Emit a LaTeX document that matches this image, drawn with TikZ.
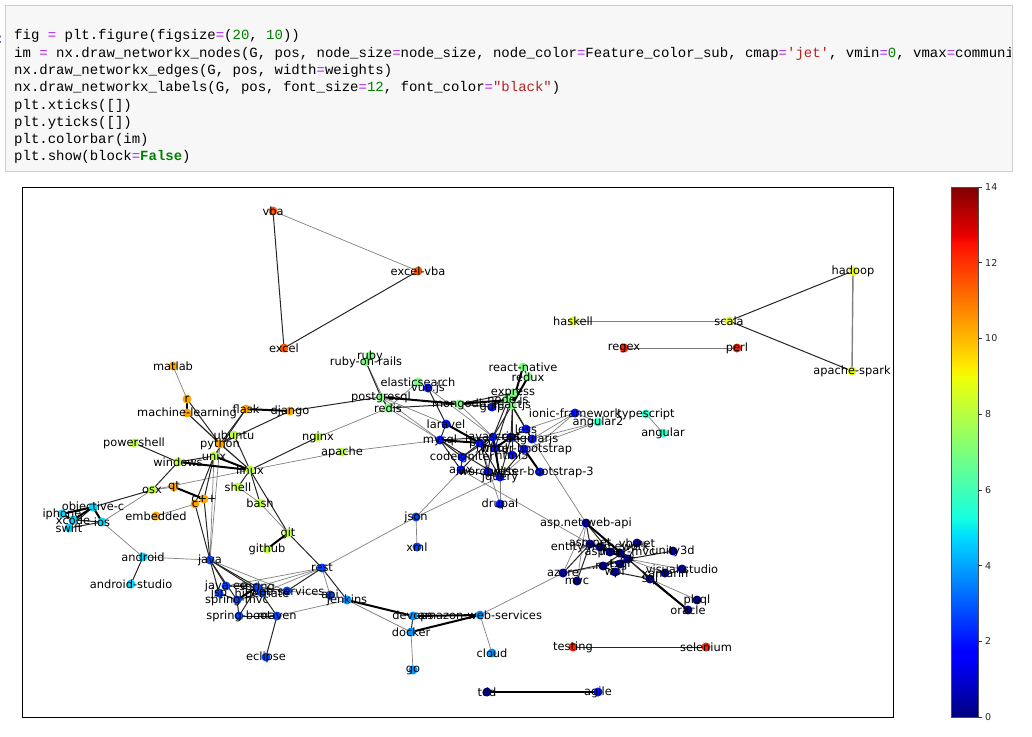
\documentclass[tikz,border=0pt]{standalone}
\usepackage{fontspec}
\setmainfont{DejaVu Sans}
\setmonofont{Liberation Mono}
\pgfdeclarelayer{edges}
\pgfdeclarelayer{dots}
\pgfsetlayers{edges,dots,main}
\definecolor{cnavy}{RGB}{0,0,145}
\definecolor{cblue}{RGB}{0,20,255}
\definecolor{cbluethree}{RGB}{0,70,255}
\definecolor{cazure}{RGB}{0,150,255}
\definecolor{ccyan}{RGB}{0,215,255}
\definecolor{caqua}{RGB}{45,255,205}
\definecolor{cgreen}{RGB}{120,255,125}
\definecolor{clime}{RGB}{190,255,60}
\definecolor{cyellow}{RGB}{235,255,15}
\definecolor{corange}{RGB}{255,165,0}
\definecolor{corred}{RGB}{255,90,0}
\definecolor{cred}{RGB}{255,30,0}
\definecolor{cellbg}{RGB}{247,247,247}
\definecolor{cellbd}{RGB}{207,207,207}
\definecolor{pyop}{RGB}{170,34,255}
\definecolor{pynum}{RGB}{0,128,0}
\definecolor{pystr}{RGB}{186,33,33}
\definecolor{prompt}{RGB}{48,63,159}
% jet colormap break points
\definecolor{ja}{rgb}{0,0,0.5}
\definecolor{jb}{rgb}{0,0,1}
\definecolor{jc}{rgb}{0,0.86,1}
\definecolor{jd}{rgb}{0,0.9,0.968}
\definecolor{je}{rgb}{0.081,1,0.887}
\definecolor{jf}{rgb}{0.935,1,0.032}
\definecolor{jg}{rgb}{0.968,0.963,0}
\definecolor{jh}{rgb}{1,0.926,0}
\definecolor{ji}{rgb}{1,0.074,0}
\definecolor{jj}{rgb}{0.909,0,0}
\definecolor{jk}{rgb}{0.5,0,0}
\tikzset{
  dot/.style={circle,inner sep=0pt,minimum size=9pt,draw=none},
  lbl/.style={inner sep=0pt,text=black,font=\fontsize{11.4}{13}\selectfont},
  eone/.style={draw=black!50,line width=0.7pt},
  etwo/.style={draw=black!85,line width=1pt},
  ethree/.style={draw=black,line width=2pt},
  codeln/.style={anchor=west,inner sep=0pt,font=\ttfamily\fontsize{14}{16}\selectfont},
  ticklbl/.style={anchor=west,inner sep=0pt,font=\fontsize{9.5}{11}\selectfont,text=black!85},
}
\newcommand\tg[5]{%
  \begin{pgfonlayer}{dots}\node[dot,fill=#4] (#1) at (#2,#3) {};\end{pgfonlayer}%
  \node[lbl] (#1-t) at (#2,#3) {#5};}
\newcommand\eq{{\color{pyop}=}}
\begin{document}
\begin{tikzpicture}[x=1pt,y=-1pt]
\useasboundingbox (0,0) rectangle (1032,736);
% ---------------- code cell ----------------
\draw[cellbd,fill=cellbg,line width=0.8pt] (5,5) rectangle (1012,171);
\node[anchor=center,inner sep=0pt,text=prompt,font=\ttfamily\fontsize{14}{16}\selectfont] (prm) at (0,40) {:};
\begin{scope}
\clip (6,6) rectangle (1010,170);
\node[codeln] (l1) at (14,36) {fig \eq{} plt.figure(figsize\eq{}({\color{pynum}20}, {\color{pynum}10}))};
\node[codeln] (l2) at (14,54) {im \eq{} nx.draw\_networkx\_nodes(G, pos, node\_size\eq{}node\_size, node\_color\eq{}Feature\_color\_sub, cmap\eq{}{\color{pystr}'jet'}, vmin\eq{}{\color{pynum}0}, vmax\eq{}communities};
\node[codeln] (l3) at (14,71) {nx.draw\_networkx\_edges(G, pos, width\eq{}weights)};
\node[codeln] (l4) at (14,88) {nx.draw\_networkx\_labels(G, pos, font\_size\eq{}{\color{pynum}12}, font\_color\eq{}{\color{pystr}"black"})};
\node[codeln] (l5) at (14,106) {plt.xticks([])};
\node[codeln] (l6) at (14,123) {plt.yticks([])};
\node[codeln] (l7) at (14,140) {plt.colorbar(im)};
\node[codeln] (l8) at (14,157) {plt.show(block\eq{}{\color{pynum}\bfseries False})};
\end{scope}
% ---------------- axes frame ----------------
\draw[black,line width=0.8pt] (22,187) rectangle (893,717);
% ---------------- colorbar ----------------
\shade[bottom color=ja,top color=jb] (951,717) rectangle (978,658.7);
\shade[bottom color=jb,top color=jb] (951,658.7) rectangle (978,650.75);
\shade[bottom color=jb,top color=jc] (951,650.75) rectangle (978,536.8);
\shade[bottom color=jc,top color=jd] (951,536.8) rectangle (978,531.5);
\shade[bottom color=jd,top color=je] (951,531.5) rectangle (978,518.25);
\shade[bottom color=je,top color=jf] (951,518.25) rectangle (978,377.8);
\shade[bottom color=jf,top color=jg] (951,377.8) rectangle (978,372.5);
\shade[bottom color=jg,top color=jh] (951,372.5) rectangle (978,367.2);
\shade[bottom color=jh,top color=ji] (951,367.2) rectangle (978,245.3);
\shade[bottom color=ji,top color=jj] (951,245.3) rectangle (978,234.7);
\shade[bottom color=jj,top color=jk] (951,234.7) rectangle (978,187);
\draw[black!70,line width=0.6pt] (951,187) rectangle (978,717);
\foreach \v in {0,2,...,14}{
  \pgfmathsetmacro\yy{717-530*\v/14}
  \draw[black!80,line width=0.6pt] (978,\yy) -- (982,\yy);
  \node[ticklbl] (tk\v) at (985,\yy) {\v};
}
% ---------------- graph nodes ----------------
\tg{vba}{273}{211}{corred}{vba}
\tg{excelvba}{418}{271}{corred}{excel-vba}
\tg{excel}{284}{348}{corred}{excel}
\tg{hadoop}{853}{271}{cyellow}{hadoop}
\tg{scala}{729}{321}{cyellow}{scala}
\tg{apachespark}{852}{371}{cyellow}{apache-spark}
\tg{haskell}{573}{321}{cyellow}{haskell}
\tg{regex}{624}{348}{cred}{regex}
\tg{perl}{737}{348}{cred}{perl}
\tg{testing}{573}{647}{cred}{testing}
\tg{selenium}{706}{647}{cred}{selenium}
\tg{tdd}{487}{692}{cnavy}{tdd}
\tg{agile}{598}{692}{cblue}{agile}
% left cluster
\tg{matlab}{173}{366}{corange}{matlab}
\tg{r}{187}{399}{corange}{r}
\tg{ml}{187}{413}{corange}{machine-learning}
\tg{flask}{246}{409}{corange}{flask}
\tg{django}{290}{411}{corange}{django}
\tg{ubuntu}{234}{435}{clime}{ubuntu}
\tg{python}{220}{444}{corange}{python}
\tg{unix}{214}{456}{clime}{unix}
\tg{powershell}{134}{443}{clime}{powershell}
\tg{windows}{178}{462}{clime}{windows}
\tg{linux}{250}{470}{clime}{linux}
\tg{osx}{152}{490}{clime}{osx}
\tg{qt}{174}{487}{corange}{qt}
\tg{cpp}{204}{499}{corange}{c++}
\tg{c}{195}{504}{corange}{c}
\tg{shell}{238}{487}{clime}{shell}
\tg{bash}{260}{503}{clime}{bash}
\tg{embedded}{156}{516}{corange}{embedded}
\tg{objc}{93}{507}{ccyan}{objective-c}
\tg{iphone}{62}{514}{ccyan}{iphone}
\tg{xcode}{73}{520}{ccyan}{xcode}
\tg{ios}{102}{522}{ccyan}{ios}
\tg{swift}{69}{528}{ccyan}{swift}
\tg{android}{143}{557}{ccyan}{android}
\tg{androidstudio}{131}{584}{ccyan}{android-studio}
\tg{git}{288}{533}{clime}{git}
\tg{github}{267}{549}{clime}{github}
\tg{nginx}{318}{437}{clime}{nginx}
\tg{apache}{342}{452}{clime}{apache}
% java / devops
\tg{java}{210}{560}{cbluethree}{java}
\tg{javaee}{226}{586}{cbluethree}{java-ee}
\tg{spring}{257}{587}{cbluethree}{spring}
\tg{jsp}{219}{593}{cbluethree}{jsp}
\tg{hibernate}{262}{593}{cbluethree}{hibernate}
\tg{springmvc}{237}{600}{cbluethree}{spring-mvc}
\tg{webservices}{287}{591}{cbluethree}{web-services}
\tg{springboot}{239}{616}{cbluethree}{spring-boot}
\tg{maven}{277}{616}{cbluethree}{maven}
\tg{eclipse}{266}{657}{cbluethree}{eclipse}
\tg{rest}{322}{568}{cbluethree}{rest}
\tg{api}{330}{595}{cbluethree}{api}
\tg{jenkins}{347}{600}{cazure}{jenkins}
\tg{devops}{413}{616}{cazure}{devops}
\tg{aws}{480}{615}{cazure}{amazon-web-services}
\tg{docker}{411}{632}{cazure}{docker}
\tg{go}{413}{670}{cazure}{go}
\tg{cloud}{492}{653}{cazure}{cloud}
\tg{json}{416}{517}{cbluethree}{json}
\tg{xml}{417}{547}{cbluethree}{xml}
\tg{drupal}{500}{504}{cblue}{drupal}
% web cluster
\tg{ruby}{370}{356}{cgreen}{ruby}
\tg{ror}{366}{362}{cgreen}{ruby-on-rails}
\tg{elasticsearch}{418}{382}{cgreen}{elasticsearch}
\tg{vuejs}{428}{388}{cblue}{vue.js}
\tg{postgresql}{381}{397}{cgreen}{postgresql}
\tg{redis}{388}{408}{cgreen}{redis}
\tg{mongodb}{459}{404}{cgreen}{mongodb}
\tg{gulp}{492}{407}{cblue}{gulp}
\tg{reactnative}{523}{367}{cgreen}{react-native}
\tg{redux}{528}{377}{cgreen}{redux}
\tg{express}{513}{393}{cgreen}{express}
\tg{nodejs}{508}{400}{cgreen}{node.js}
\tg{reactjs}{512}{405}{cgreen}{reactjs}
\tg{laravel}{446}{424}{cblue}{laravel}
\tg{mysql}{440}{440}{cblue}{mysql}
\tg{codeigniter}{462}{457}{cblue}{codeigniter}
\tg{javascript}{493}{437}{cblue}{javascript}
\tg{php}{480}{443}{cblue}{php}
\tg{css}{511}{437}{cblue}{css}
\tg{html}{495}{448}{cblue}{html}
\tg{htmlfive}{512}{455}{cblue}{html5}
\tg{angularjs}{532}{439}{cblue}{angularjs}
\tg{less}{526}{429}{cblue}{less}
\tg{twbs}{524}{449}{cblue}{twitter-bootstrap}
\tg{ajax}{461}{470}{cblue}{ajax}
\tg{wordpress}{488}{472}{cblue}{wordpress}
\tg{jquery}{500}{477}{cblue}{jquery}
\tg{twbsthree}{540}{472}{cblue}{twitter-bootstrap-3}
\tg{ionic}{575}{413}{cblue}{ionic-framework}
\tg{angulartwo}{598}{422}{caqua}{angular2}
\tg{typescript}{646}{414}{caqua}{typescript}
\tg{angular}{663}{433}{caqua}{angular}
% .net cluster
\tg{aspwebapi}{586}{523}{cnavy}{asp.net-web-api}
\tg{aspnet}{590}{544}{cnavy}{asp.net}
\tg{ef}{600}{547}{cnavy}{entity-framework}
\tg{vbnet}{637}{543}{cnavy}{vb.net}
\tg{unity}{673}{551}{cnavy}{unity3d}
\tg{csharp}{628}{559}{cnavy}{c\#}
\tg{linq}{610}{552}{cnavy}{linq}
\tg{aspmvc}{620}{553}{cnavy}{asp.net-mvc}
\tg{dotnet}{603}{566}{cnavy}{.net}
\tg{tsql}{620}{564}{cnavy}{tsql}
\tg{wpf}{615}{572}{cnavy}{wpf}
\tg{azure}{563}{573}{cnavy}{azure}
\tg{mvc}{577}{581}{cnavy}{mvc}
\tg{visualstudio}{682}{569}{cnavy}{visual-studio}
\tg{xamarin}{665}{573}{cnavy}{xamarin}
\tg{sql}{650}{579}{cnavy}{sql}
\tg{plsql}{697}{600}{cnavy}{plsql}
\tg{oracle}{688}{610}{cnavy}{oracle}
% ---------------- edges ----------------
\begin{pgfonlayer}{edges}
\foreach \a/\b in {vba/excelvba,haskell/scala,regex/perl,matlab/r,osx/linux,osx/ios,c/embedded,
  ml/linux,shell/bash,linux/apache,bash/git,nginx/redis,apache/mysql,ios/android,android/java,
  rest/json,rest/api,rest/javaee,rest/spring,maven/jenkins,jenkins/docker,docker/go,aws/cloud,
  aws/azure,json/xml,json/ajax,json/jquery,ror/redis,elasticsearch/redis,vuejs/javascript,
  redis/mysql,ionic/angulartwo,angularjs/angulartwo,typescript/angular,ionic/angularjs,
  angularjs/aspwebapi,ajax/aspnet,drupal/php,drupal/jquery,csharp/visualstudio,csharp/xamarin,
  sql/plsql,azure/dotnet,aspwebapi/mvc,azure/aspwebapi,mongodb/javascript,postgresql/laravel,
  qt/osx,java/webservices,rest/hibernate,api/webservices,mysql/postgresql,less/ionic,twbs/angulartwo,
  unix/java,python/java,jquery/ionic,html/less}
  \draw[eone] (\a.center) -- (\b.center);
\draw[eone,line width=1.4pt] (hadoop.center) -- (apachespark.center);
\foreach \a/\b in {vba/excel,excel/excelvba,scala/hadoop,scala/apachespark,testing/selenium,
  r/python,ml/python,flask/python,django/python,django/postgresql,ubuntu/linux,python/linux,
  powershell/windows,windows/osx,osx/objc,cpp/c,cpp/java,c/java,unix/cpp,unix/c,linux/shell,
  linux/bash,linux/git,git/rest,linux/nginx,objc/swift,xcode/ios,swift/ios,swift/xcode,
  android/androidstudio,java/javaee,java/spring,java/springmvc,java/jsp,java/hibernate,
  spring/springboot,spring/maven,springboot/maven,maven/eclipse,rest/webservices,rest/jenkins,
  devops/docker,postgresql/ror,ruby/ror,postgresql/redis,mongodb/redis,express/mongodb,
  php/codeigniter,php/wordpress,php/javascript,php/jquery,php/html,mysql/laravel,mysql/codeigniter,
  mysql/javascript,mysql/jquery,mysql/ajax,javascript/html,javascript/css,javascript/angularjs,
  javascript/nodejs,javascript/reactjs,javascript/ajax,css/twbs,css/less,html/htmlfive,twbs/jquery,
  jquery/ajax,jquery/wordpress,jquery/html,angularjs/less,nodejs/reactjs,express/css,
  reactjs/htmlfive,redux/reactnative,mongodb/gulp,gulp/express,nodejs/angularjs,ajax/codeigniter,
  laravel/vuejs,aspwebapi/aspnet,aspwebapi/linq,aspnet/azure,csharp/unity,csharp/sql,csharp/wpf,
  csharp/dotnet,csharp/vbnet,csharp/linq,csharp/ef,csharp/tsql,azure/csharp,csharp/oracle,
  aspnet/mvc,ef/linq,dotnet/wpf,vbnet/dotnet,aspmvc/aspnet,ubuntu/python,flask/unix,
  windows/unix,javaee/spring,springmvc/springboot,hibernate/springmvc,webservices/spring,
  jsp/springmvc,express/html,reactjs/angularjs,wordpress/javascript,codeigniter/javascript,
  css/jquery,aspmvc/csharp,wpf/sql}
  \draw[etwo] (\a.center) -- (\b.center);
\foreach \a/\b in {tdd/agile,r/ml,flask/django,unix/linux,windows/linux,qt/cpp,git/github,
  objc/iphone,objc/xcode,objc/ios,iphone/xcode,spring/springmvc,spring/hibernate,jenkins/devops,
  devops/aws,docker/aws,postgresql/mongodb,nodejs/express,nodejs/mongodb,reactjs/redux,
  reactjs/reactnative,mysql/php,php/laravel,javascript/jquery,css/html,twbs/twbsthree,
  csharp/aspwebapi,sql/oracle,aspnet/csharp,javascript/html}
  \draw[ethree] (\a.center) -- (\b.center);
\end{pgfonlayer}
\end{tikzpicture}
\end{document}
